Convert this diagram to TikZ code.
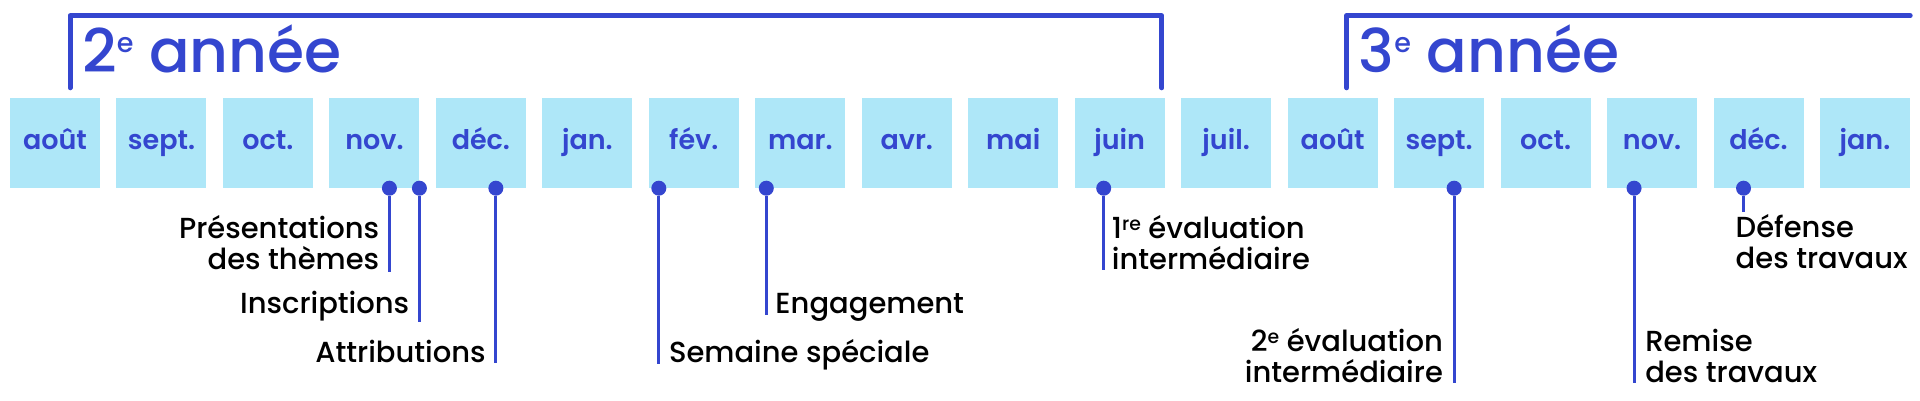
\documentclass[tikz,border=0pt]{standalone}
\usepackage{fontspec}
\setmainfont{Poppins}[UprightFont=* Medium, BoldFont=* SemiBold]
\usetikzlibrary{positioning}
\usetikzlibrary{calc}
\definecolor{mois}{HTML}{AEE7F8}
\definecolor{bleu}{HTML}{3446CF}
\newcommand{\expo}[3][0.26em]{\raisebox{#1}{\fontsize{#2}{1em}\selectfont #3}}
\tikzset{
	month/.style = {fill=mois, minimum width=90pt, minimum height=90pt, inner sep=0pt,
		text=bleu, font=\bfseries\fontsize{27}{30}\selectfont, text height=19pt, text depth=6pt},
	dot/.style = {circle, fill=bleu, inner sep=0pt, minimum size=15pt},
	tick/.style = {draw=bleu, line width=3pt},
	event/.style = {inner sep=0pt, align=left, font=\fontsize{29}{31}\selectfont},
	eventr/.style = {event, align=right},
	annee/.style = {draw=bleu, line width=5pt, line cap=round, line join=round},
	titre/.style = {text=bleu, inner sep=0pt, anchor=base west, font=\fontsize{60}{70}\selectfont}
}

\begin{document}
\begin{tikzpicture}[x=1pt,y=-1pt]
	\useasboundingbox (0,0) rectangle (1920,400);
	% les mois
	\foreach \m [count=\i] in {août,sept.,oct.,nov.,déc.,jan.,fév.,mar.,avr.,mai,juin,juil.,août,sept.,oct.,nov.,déc.,jan.}
		\node[month] (m\i) at ({55+(\i-1)*106.47},143) {\m};
	
	% 2e annee
	\coordinate (b2l) at ([xshift=15pt,yshift=10pt]m1.north);
	\coordinate (b2r) at ([xshift=-3pt,yshift=10pt]m11.north east);
	\draw[annee] (b2l) -- ++(0,-72) -| (b2r);
	\node[titre] (an2) at ([xshift=12pt,yshift=15pt]b2l) {2\expo[0.34em]{0.45em}{e} année};
	
	% 3e annee
	\coordinate (b3l) at ([xshift=14pt,yshift=10pt]m13.north);
	\coordinate (b3r) at ([yshift=82pt]m18.north east);
	\draw[annee] (b3l) |- (b3r);
	\node[titre] (an3) at ([xshift=12pt,yshift=15pt]b3l) {3\expo[0.34em]{0.45em}{e} année};
	
	% les etapes
	\node[dot] (d1) at ([xshift=15pt]m4.south) {};
	\coordinate (e1) at (d1 |- 0,272);
	\draw[tick] (d1) -- (e1);
	\node[eventr, anchor=base east] (t1) at ([xshift=-10pt,yshift=3pt]e1) {Présentations\\des thèmes};
	
	\node[dot] (d2) at ([xshift=45pt]m4.south) {};
	\coordinate (e2) at (d2 |- 0,322);
	\draw[tick] (d2) -- (e2);
	\node[eventr, anchor=base east] (t2) at ([xshift=-10pt,yshift=9pt]e2) {Inscriptions};
	
	\node[dot] (d3) at ([xshift=15pt]m5.south) {};
	\coordinate (e3) at (d3 |- 0,363);
	\draw[tick] (d3) -- (e3);
	\node[eventr, anchor=base east] (t3) at ([xshift=-10pt,yshift=1pt]e3) {Attributions};
	
	\node[dot] (d4) at ([xshift=-35pt]m7.south) {};
	\coordinate (e4) at (d4 |- 0,364);
	\draw[tick] (d4) -- (e4);
	\node[event, anchor=base west] (t4) at ([xshift=10pt,yshift=2pt]e4) {Semaine spéciale};
	
	\node[dot] (d5) at ([xshift=-34pt]m8.south) {};
	\coordinate (e5) at (d5 |- 0,315);
	\draw[tick] (d5) -- (e5);
	\node[event, anchor=base west] (t5) at ([xshift=9pt,yshift=2pt]e5) {Engagement};
	
	\node[dot] (d6) at ([xshift=-16pt]m11.south) {};
	\coordinate (e6) at (d6 |- 0,270);
	\draw[tick] (d6) -- (e6);
	\node[event, anchor=base west] (t6) at ([xshift=8pt,yshift=1pt]e6) {1\expo{0.65em}{re} évaluation\\intermédiaire};
	
	\node[dot] (d7) at ([xshift=15pt]m14.south) {};
	\coordinate (e7) at (d7 |- 0,383);
	\draw[tick] (d7) -- (e7);
	\node[eventr, anchor=base east] (t7) at ([xshift=-11pt,yshift=1pt]e7) {2\expo{0.65em}{e} évaluation\\intermédiaire};
	
	\node[dot] (d8) at ([xshift=-18pt]m16.south) {};
	\coordinate (e8) at (d8 |- 0,383);
	\draw[tick] (d8) -- (e8);
	\node[event, anchor=base west] (t8) at ([xshift=11pt,yshift=1pt]e8) {Remise\\des travaux};
	
	\node[dot] (d9) at ([xshift=-15pt]m17.south) {};
	\coordinate (e9) at (d9 |- 0,212);
	\draw[tick] (d9) -- (e9);
	\node[event, anchor=base west] (t9) at ([xshift=-8pt,yshift=-56pt]e9) {Défense\\des travaux};
\end{tikzpicture}
\end{document}
